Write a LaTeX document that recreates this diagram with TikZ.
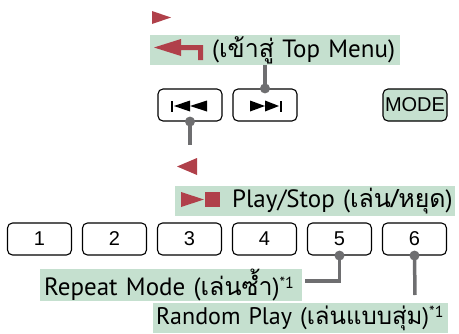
\documentclass[tikz,border=0pt]{standalone}
\usepackage{fontspec}
\setmainfont{PT Sans}
\newfontfamily\thaifont[Script=Thai]{Loma}
\newfontfamily\keyfont{Liberation Sans}
\usetikzlibrary{positioning,calc}
\definecolor{bandgreen}{HTML}{C5E0CF}
\definecolor{iconred}{HTML}{B0404A}
\definecolor{wiregray}{HTML}{6E6E70}
\newcommand{\thtxt}[1]{{\thaifont #1}}
\newcommand{\noteone}{\raisebox{7pt}{\fontsize{16}{16}\selectfont *1}}

\begin{document}
\begin{tikzpicture}[x=1pt,y=-1pt,
  key/.style={draw,rounded corners=5pt,line width=1.1pt,minimum width=64pt,minimum height=32pt,inner sep=0pt,font=\keyfont\fontsize{20}{20}\selectfont},
  band/.style={fill=bandgreen,inner sep=0pt,minimum height=30pt,anchor=west,text width=#1,align=left,font=\fontsize{25}{25}\selectfont},
  wire/.style={draw=wiregray,line width=3.5pt},
  dot/.style={circle,fill=wiregray,inner sep=0pt,minimum size=10pt},
  icon/.style={fill=iconred,draw=none}]

  \useasboundingbox (0,0) rectangle (459,333);

  % labels on green bands
  \node[band=250pt] (topmenu) at (150,50) {\mbox{\hspace*{62pt}(\thtxt{เข้าสู่} Top Menu)}};
  \node[band=280pt] (playstop) at (175,201) {\mbox{\hspace*{57pt}Play/Stop (\thtxt{เล่น/หยุด})}};
  \node[band=262pt] (repeat) at (40,285) {\mbox{\hspace*{4pt}Repeat Mode (\thtxt{เล่นซ้ำ})\noteone}};
  \node[band=295pt,font=\fontsize{24}{24}\selectfont] (random) at (153,318) {\mbox{\hspace*{3pt}Random Play (\thtxt{เล่นแบบสุ่ม})\noteone}};

  % keys
  \node[key] (prev) at (190,105) {};
  \node[key] (next) at (265,105) {};
  \node[key,fill=bandgreen] (mode) at (415,105) {MODE};
  \foreach \n in {1,...,6}
    \node[key] (k\n) at ({39.5+75*(\n-1)},239) {\n};

  % key symbols
  \begin{scope}[shift={(prev.center)}]
    \fill (-19,-4.5) rectangle (-17,6.5);
    \fill (-16,1) -- (0,-4.5) -- (0,6.5) -- cycle;
    \fill (0,1) -- (17,-4.5) -- (17,6.5) -- cycle;
  \end{scope}
  \begin{scope}[shift={(next.center)}]
    \fill (-15,-4.5) -- (0,1) -- (-15,6.5) -- cycle;
    \fill (0,-4.5) -- (14,1) -- (0,6.5) -- cycle;
    \fill (14.5,-4.5) rectangle (16.5,6.5);
  \end{scope}

  % red icons
  \fill[icon] (152,11) -- (171,17.5) -- (152,24) -- cycle;
  \fill[icon] (154,47.5) -- (181,39) -- (181,45) -- (203,45) -- (203,60)
    -- (198,60) -- (198,50) -- (181,50) -- (181,56) -- cycle;
  \fill[icon] (197,158) -- (177,166.5) -- (197,175) -- cycle;
  \fill[icon] (181,192) -- (204,199.5) -- (181,207) -- cycle;
  \fill[icon] (205,192) rectangle (220,207);

  % connectors
  \coordinate (prevend) at (190,145);
  \coordinate (repend) at (305,281);
  \coordinate (rndend) at (415,295);
  \draw[wire] (next.north) -- (next.north |- topmenu.south);
  \draw[wire] (prev.south) -- (prevend);
  \draw[wire] (k5.south) |- (repend);
  \draw[wire] (k6.south) -- (rndend);
  \node[dot] at (next.north) {};
  \node[dot] at (prev.south) {};
  \node[dot] at (k5.south) {};
  \node[dot] at (k6.south) {};
\end{tikzpicture}
\end{document}
